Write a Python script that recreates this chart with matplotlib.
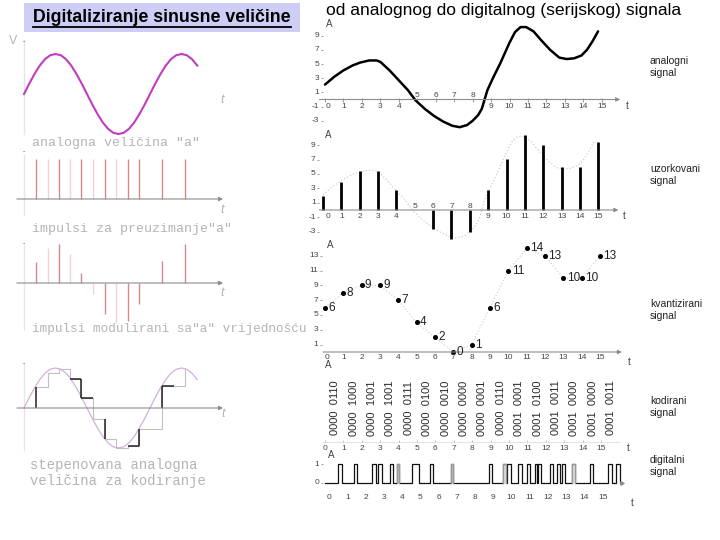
import numpy as np
import matplotlib
matplotlib.use("Agg")
import matplotlib.pyplot as plt
from matplotlib.patches import Rectangle
from matplotlib.lines import Line2D

W, H = 720, 540
plt.rcParams["font.family"] = ["Liberation Sans", "DejaVu Sans"]

# ---------------- left side: sine digitalisation (phase / amplitude units) ----------------
sine_y = [0, .26, .5, .71, .87, .97, 1, .97, .87, .71, .5, .26, 0,
          -.26, -.5, -.71, -.87, -.97, -1, -.97, -.87, -.71, -.5, -.26, 0,
          .26, .5, .71, .87, .97, 1, .97, .87, .71]
sine_step = 1 / 24
pulse_pos = [0.093, 0.189, 0.275, 0.365, 0.455, 0.55, 0.64, 0.73, 0.823, 0.915, 1.097, 1.28]
pulse_strong = [1, 0, 1, 0, 1, 0, 1, 0, 1, 1, 1, 1]
pulse_val = [0.53, 0.88, 0.98, 0.73, 0.25, -0.28, -0.78, -1.0, -0.94, -0.52, 0.56, 0.98]
hold_black = [3, 4, 8, 10]
jump_black = [4, 6, 9]
stem_black = [0, 10]
left_labels = ['analogna veličina "a"', 'impulsi za preuzimanje"a"',
               'impulsi modulirani sa"a" vrijednošću',
               'stepenovana analogna', 'veličina za kodiranje']

# ---------------- right side: analog -> digital ----------------
t_idx = list(range(16))
analog_t = [0, 0.5, 1.0, 1.5, 1.9, 2.4, 2.8, 3.0, 3.5, 4.0, 4.5, 4.9, 5.4, 5.9, 6.4, 6.9,
            7.3, 7.7, 8.0, 8.3, 8.5, 8.8, 9.1, 9.5, 10.0, 10.3, 10.6, 10.9, 11.3, 11.7,
            12.2, 12.7, 13.1, 13.5, 13.9, 14.2, 14.5, 14.8]
analog_a = [2.1, 3.2, 4.1, 4.8, 5.2, 5.5, 5.5, 5.3, 4.1, 2.7, 1.3, -0.1, -1.3, -2.3, -3.1, -3.7,
            -3.9, -3.6, -3.0, -2.2, -1.3, 1.3, 3.0, 5.1, 8.0, 9.5, 10.2, 10.2, 9.6, 8.4,
            7.0, 5.9, 5.7, 5.8, 6.2, 7.0, 8.2, 9.6]
sampled = [2.0, 3.9, 5.4, 5.4, 2.8, 0.0, -2.6, -4.0, -3.1, 2.8, 7.1, 10.4, 9.0, 6.0, 6.0, 9.5]
levels = [6, 8, 9, 9, 7, 4, 2, 0, 1, 6, 11, 14, 13, 10, 10, 13]
codes = ["0000  0110", "0000  1000", "0000  1001", "0000  1001", "0000  0111", "0000  0100",
         "0000  0010", "0000  0000", "0000  0001", "0000  0110", "0001  0001", "0001  0100",
         "0001  0011", "0001  0000", "0001  0000", "0001  0011"]
bit_on = [0.51, 1.38, 2.37, 2.70, 3.34, 3.71, 4.53, 5.53, 6.66, 8.77, 9.55, 9.77, 10.37,
          10.83, 11.29, 11.44, 12.11, 12.51, 12.75, 13.30, 14.30, 15.30, 15.75]
bit_off = [0.73, 1.51, 2.56, 2.92, 3.52, 3.85, 4.93, 5.71, 6.81, 8.92, 9.68, 9.96, 10.56,
           11.01, 11.38, 11.60, 12.29, 12.66, 12.93, 13.48, 14.45, 15.49, 15.93]
bit_gray = [5, 8, 10, 19]
side_labels = ["analogni\nsignal", "uzorkovani\nsignal", "kvantizirani\nsignal",
               "kodirani\nsignal", "digitalni\nsignal"]

AX_C = "#8c8c8c"
TICK_C = "#444444"
LGRAY = "#b4b4b4"

fig = plt.figure(figsize=(7.2, 5.4), dpi=100)


def panel(x0, ux, y0, uy, xlim, ylim):
    left = x0 + xlim[0] * ux
    right = x0 + xlim[1] * ux
    top = y0 - ylim[1] * uy
    bottom = y0 - ylim[0] * uy
    ax = fig.add_axes([left / W, 1 - bottom / H, (right - left) / W, (bottom - top) / H])
    ax.set_xlim(xlim)
    ax.set_ylim(ylim)
    ax.axis("off")
    return ax


def ftext(x, y, s, **kw):
    return fig.text(x / W, 1 - y / H, s, **kw)


def arrow_axis(ax, x0, x1, color=AX_C, lw=0.8):
    ax.annotate("", xy=(x1, 0), xytext=(x0, 0),
                arrowprops=dict(arrowstyle="-|>", color=color, lw=lw, mutation_scale=6,
                                shrinkA=0, shrinkB=0))


# ---------------- titles ----------------
fig.add_artist(Rectangle((24 / W, 1 - 32 / H), 276 / W, 29 / H, transform=fig.transFigure,
                         facecolor="#cdcdf5", edgecolor="none"))
ttl = ftext(162, 18, "Digitaliziranje sinusne veličine", ha="center", va="center",
            fontsize=12.8, fontweight="bold")
fig.canvas.draw()
bb = ttl.get_window_extent()
fig.add_artist(Line2D([bb.x0 / W, bb.x1 / W], [(bb.y0 - 0.5) / H] * 2,
                      transform=fig.transFigure, color="black", lw=1.3))
ftext(504, 10, "od analognog do digitalnog (serijskog) signala", ha="center", va="center",
      fontsize=12.6)

# ---------------- left panels ----------------
sine_x = [i * sine_step for i in range(len(sine_y))]
mono = dict(family="Liberation Mono", color=LGRAY)

# analog sine
ax = panel(24, 126, 94, 40, (-0.1, 1.65), (-1.4, 1.4))
ax.plot([0, 0], [-1.0, 1.35], color="#e6e6e6", lw=1)
ax.plot(sine_x, sine_y, color="#c03cc0", lw=1.5)
ftext(9, 41, "V", fontsize=9, color=LGRAY, va="center")
ftext(24, 42, "·", fontsize=9, color="#555555", ha="center", va="center")
ftext(222, 100, "t", fontsize=9, color=LGRAY, ha="center", va="center", style="italic")
ftext(32, 143, left_labels[0], fontsize=9.5, va="center", **mono)

# sampling impulses
ax = panel(24, 126, 199, 40, (-0.1, 1.65), (-1.0, 1.2))
ax.plot([0, 0], [-0.4, 1.1], color="#e6e6e6", lw=1)
for p, s in zip(pulse_pos, pulse_strong):
    ax.vlines(p, 0, 1.0, color="#d88a8a" if s else "#f0d2d2", lw=1.0)
arrow_axis(ax, -0.056, 1.58)
ftext(24, 152, "·", fontsize=9, color="#555555", ha="center", va="center")
ftext(222, 210, "t", fontsize=9, color=LGRAY, ha="center", va="center", style="italic")
ftext(32, 229, left_labels[1], fontsize=9.5, va="center", **mono)

# modulated impulses
ax = panel(24, 126, 283, 40, (-0.1, 1.65), (-1.2, 1.2))
ax.plot([0, 0], [-1.2, 0.95], color="#e6e6e6", lw=1)
for p, v, s in zip(pulse_pos, pulse_val, pulse_strong):
    ax.vlines(p, 0, v, color="#d88a8a" if s else "#f0d2d2", lw=1.0)
arrow_axis(ax, -0.056, 1.58)
ftext(24, 244, "·", fontsize=9, color="#555555", ha="center", va="center")
ftext(222, 293, "t", fontsize=9, color=LGRAY, ha="center", va="center", style="italic")
ftext(32, 329, left_labels[2], fontsize=9.2, va="center", **mono)

# stepped signal for coding
ax = panel(24, 126, 408, 40, (-0.1, 1.65), (-1.2, 1.2))
ax.plot([0, 0], [-1.05, 1.1], color="#e6e6e6", lw=1)
ax.plot(sine_x, sine_y, color="#d4aee0", lw=0.9)
ax.step(pulse_pos, pulse_val, where="post", color="#c0c0c0", lw=0.8)
for i in stem_black:
    ax.vlines(pulse_pos[i], 0, pulse_val[i], color="#222222", lw=1.1)
for i in hold_black:
    ax.hlines(pulse_val[i], pulse_pos[i], pulse_pos[i] + 0.09, color="#222222", lw=1.1)
for i in jump_black:
    ax.vlines(pulse_pos[i], pulse_val[i - 1], pulse_val[i], color="#222222", lw=1.1)
arrow_axis(ax, -0.056, 1.58)
ftext(24, 364, "·", fontsize=9, color="#555555", ha="center", va="center")
ftext(223, 414, "t", fontsize=9, color=LGRAY, ha="center", va="center", style="italic")
ftext(30, 465, left_labels[3], fontsize=10, va="center", **mono)
ftext(30, 481, left_labels[4], fontsize=10, va="center", **mono)


# ---------------- right panels ----------------
def t_labels(ax, yb, ya=None, above=(), x_off=0.0, tx=16.4, ty=None):
    for k in t_idx:
        y = ya if k in above else yb
        ax.text(k + (x_off if k == 0 else 0), y, str(k), ha="center", va="center",
                fontsize=6, color=TICK_C)
    ax.text(tx, yb if ty is None else ty, "t", ha="center", va="center", fontsize=7, color=TICK_C)


def y_labels(ax, vals, x=-0.3):
    for v in vals:
        ax.text(x, v, str(v), ha="right", va="center", fontsize=6, color=TICK_C)
    ax.plot([x + 0.15] * len(vals), vals, "_", ms=2, color=AX_C, mew=0.6)


# analog signal
ax = panel(325, 18.45, 99.5, 7.1, (-1.2, 17.5), (-5, 11.5))
arrow_axis(ax, -0.3, 16.0)
ax.plot(t_idx, [0] * 16, "|", ms=2.5, color=AX_C, mew=0.6)
ax.plot(analog_t, analog_a, color="black", lw=1.8, solid_capstyle="round")
y_labels(ax, [9, 7, 5, 3, 1, -1, -3])
t_labels(ax, -0.95, 0.5, above=(5, 6, 7, 8), x_off=0.15)
ax.text(0.05, 10.6, "A", fontsize=7, color=TICK_C, va="center")

# sampled signal
ax = panel(323, 18.35, 210, 7.2, (-1.2, 17.5), (-5, 11.5))
ax.plot(analog_t, analog_a, color="#cfcfcf", lw=0.9, ls=":")
arrow_axis(ax, -0.2, 16.1)
ax.vlines(t_idx, 0, sampled, color="black", lw=2.0)
y_labels(ax, [9, 7, 5, 3, 1, -1, -3], x=-0.4)
t_labels(ax, -0.85, 0.55, above=(5, 6, 7, 8), x_off=0.25)
ax.text(0.1, 10.4, "A", fontsize=7, color=TICK_C, va="center")

# quantised signal
ax = panel(325, 18.33, 352, 7.4, (-1.2, 17.5), (-2, 15.5))
ax.plot(t_idx, levels, color="#d4d4d4", lw=0.9, ls=":")
arrow_axis(ax, -0.1, 16.2)
ax.plot(t_idx, levels, "o", ms=2.6, color="black")
for k, v in zip(t_idx, levels):
    ax.text(k + 0.18, v, str(v), ha="left", va="center", fontsize=8.5, color="#222222")
y_labels(ax, [13, 11, 9, 7, 5, 3, 1], x=-0.35)
t_labels(ax, -0.8, x_off=0.1, tx=16.6, ty=-1.3)
ax.text(0.1, 14.5, "A", fontsize=7, color=TICK_C, va="center")

# coded signal
ax = panel(325, 18.4, 442, 1.0, (-1.2, 17.5), (-14, 82))
ax.plot([-0.1, 16.0], [0, 0], color="#e4e4e4", lw=0.8)
ax.plot(t_idx, [1] * 16, "|", ms=2, color="#bbbbbb", mew=0.6)
for k, c in zip(t_idx, codes):
    ax.text(k + 0.55, 34, c, rotation=90, ha="center", va="center", fontsize=8,
            color="#2a2a2a")
t_labels(ax, -6, tx=16.5)
ax.text(0.0, 77, "A", fontsize=7, color=TICK_C, va="center")

# digital (serial) signal
ax = panel(329, 18.25, 483, 19, (-1.2, 17.5), (-1.3, 1.6))
wx, wy = [-0.2], [0]
for on, off in zip(bit_on, bit_off):
    wx += [on, on, off, off]
    wy += [0, 1, 1, 0]
wx.append(16.05)
wy.append(0)
ax.plot(wx, wy, color="#111111", lw=0.9)
for i in bit_gray:
    ax.plot([bit_on[i], bit_on[i], bit_off[i], bit_off[i]], [0, 1, 1, 0], color="#9a9a9a", lw=1.0)
ax.plot([16.05], [0], ">", ms=2.5, color=AX_C)
for v in (1, 0):
    ax.text(-0.55, v, str(v), ha="right", va="center", fontsize=6, color=TICK_C)
    ax.plot([-0.4], [v], "_", ms=2, color=AX_C, mew=0.6)
t_labels(ax, -0.74, tx=16.6, ty=-1.05)
ax.text(-0.05, 1.47, "A", fontsize=7, color=TICK_C, va="center")

# side labels
for s, y in zip(side_labels, [67, 175, 310, 407, 466]):
    ftext(650, y, s, fontsize=7.5, color="#222222", va="center", linespacing=1.15)

fig.savefig("out.png", dpi=100)
